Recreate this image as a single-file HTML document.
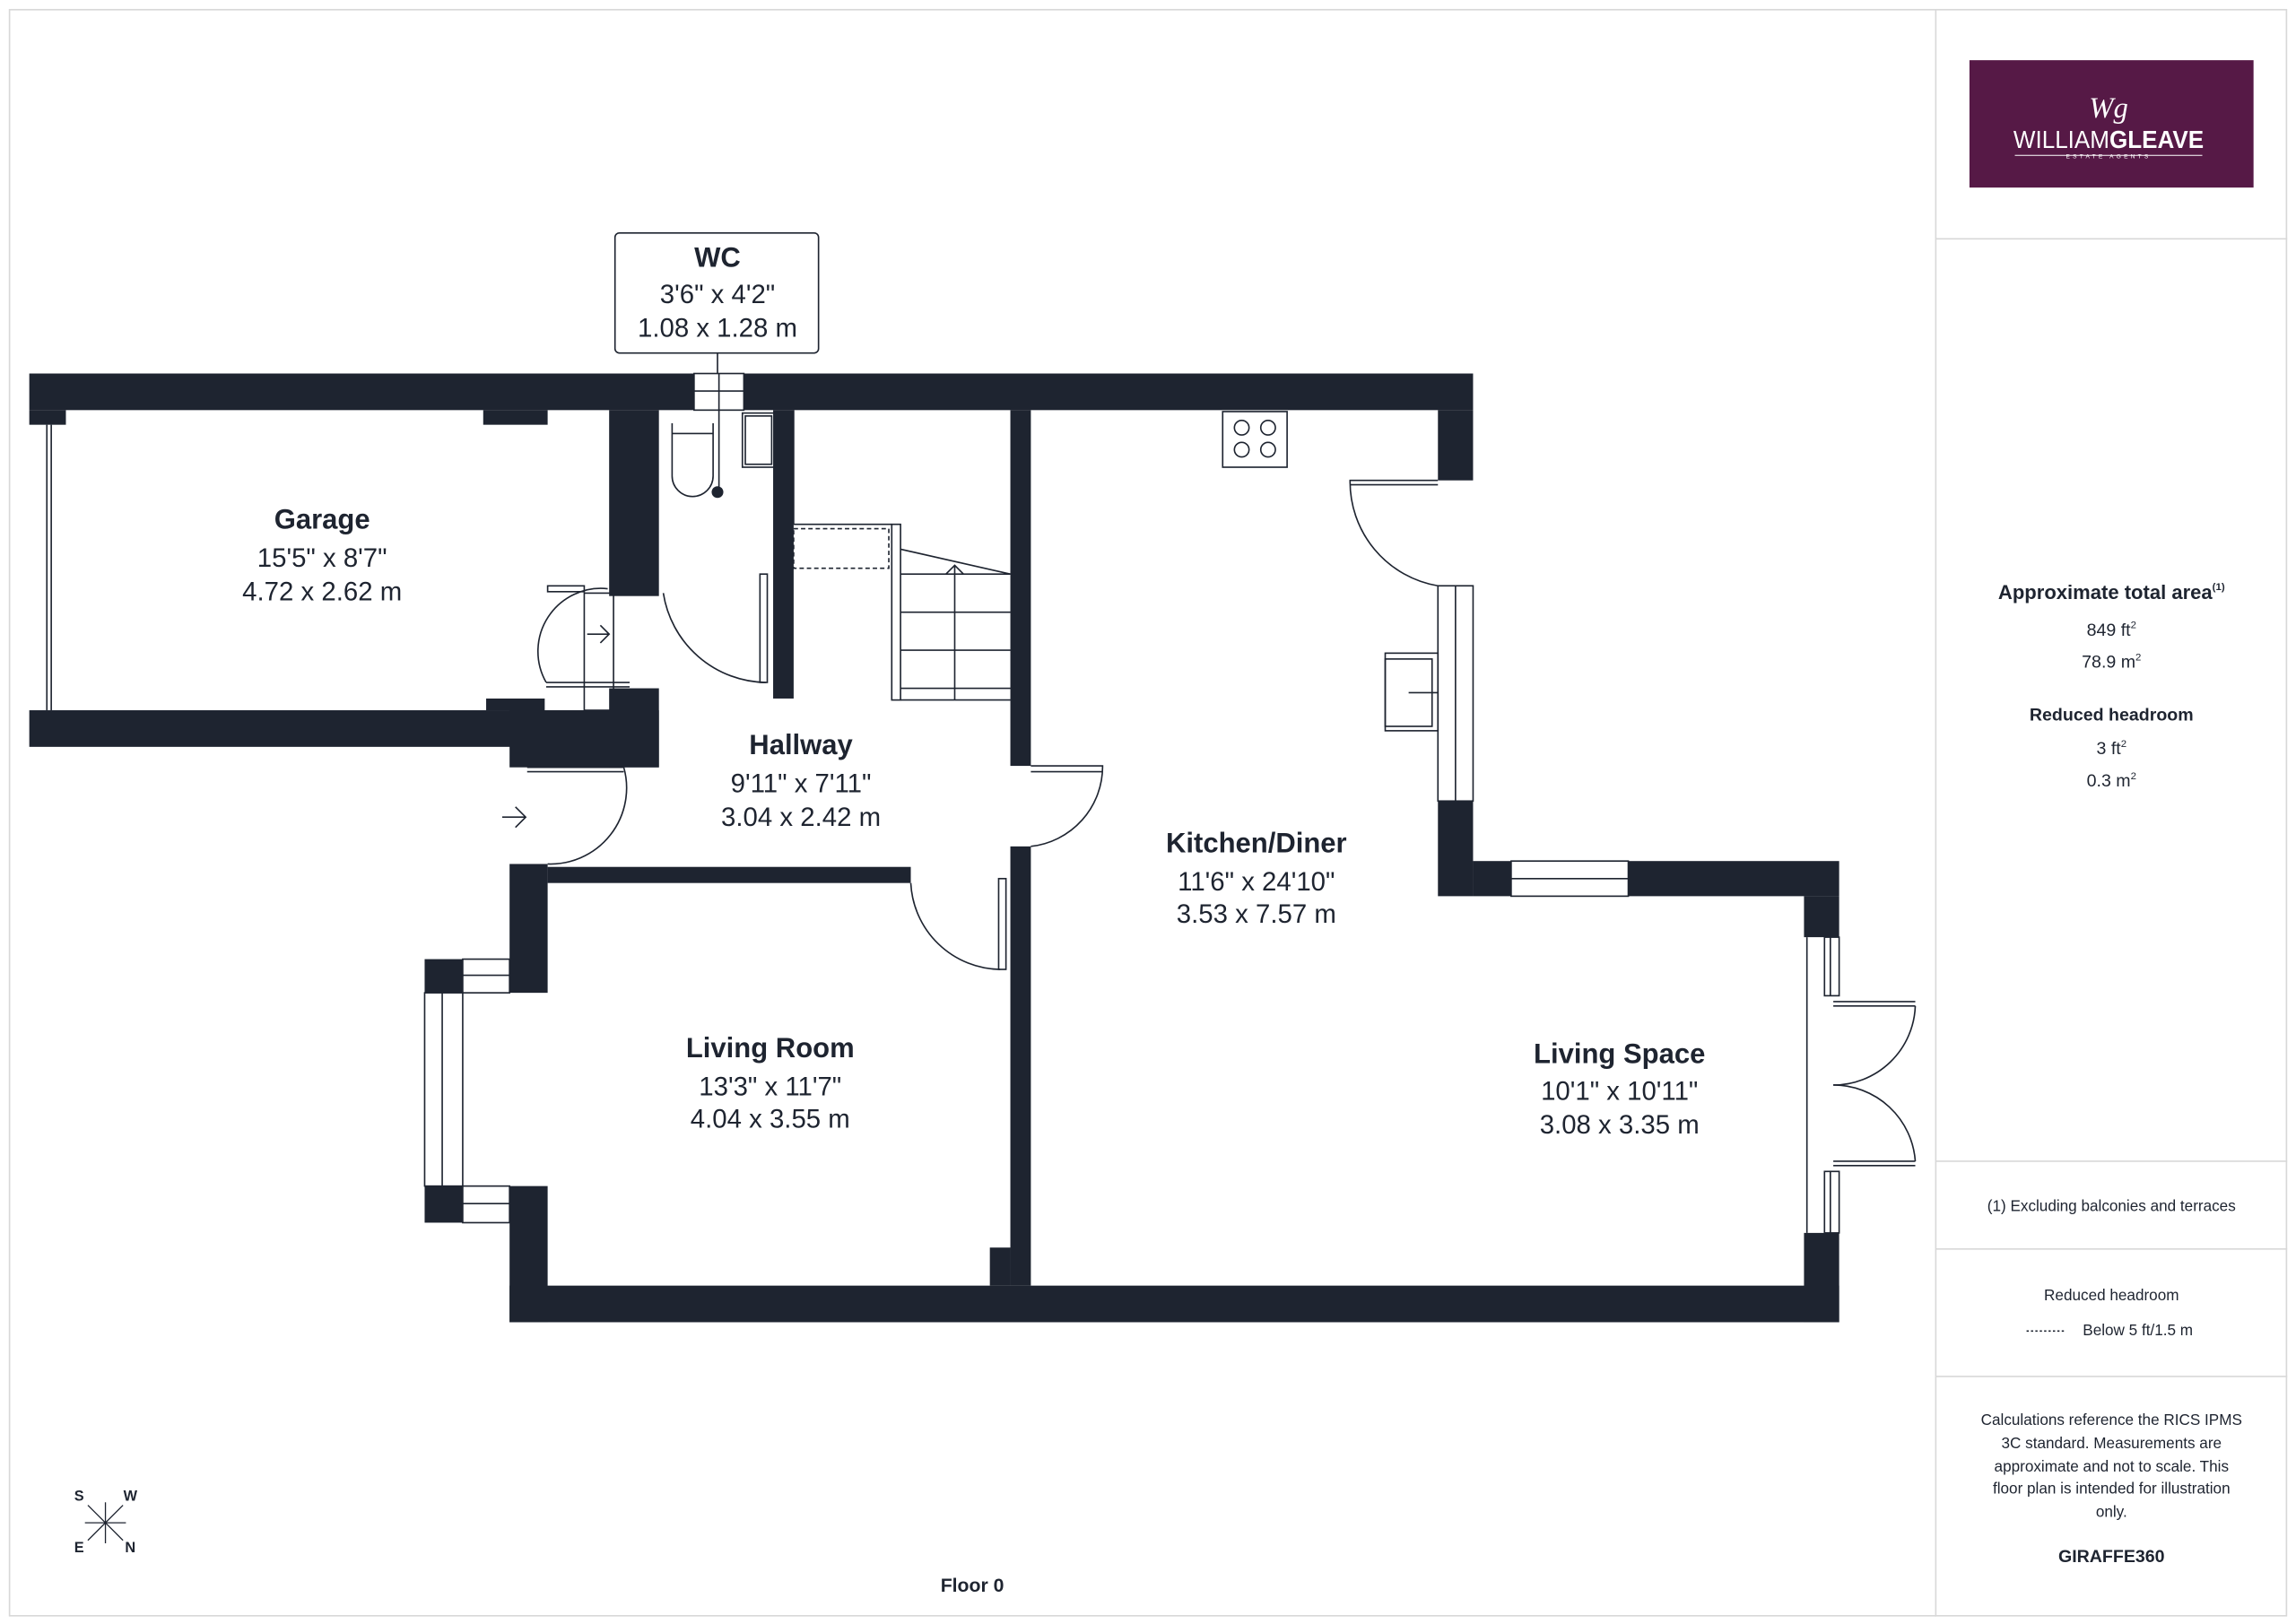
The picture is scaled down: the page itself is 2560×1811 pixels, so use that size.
<!DOCTYPE html>
<html><head><meta charset="utf-8"><style>
html,body{margin:0;padding:0;background:#fff;}
svg{display:block;}
text{font-family:"Liberation Sans",sans-serif;fill:#1e2430;}
</style></head><body>
<svg width="2560" height="1811" viewBox="0 0 1568 1109" xmlns="http://www.w3.org/2000/svg">
<rect x="0" y="0" width="1568" height="1109" fill="#fff"/>
<rect x="6.5" y="6.5" width="1555" height="1097" fill="none" stroke="#d8d8d8" stroke-width="1"/>
<line x1="1322" y1="6" x2="1322" y2="1104" stroke="#d8d8d8"/>
<line x1="1322" y1="163" x2="1562" y2="163" stroke="#d8d8d8"/>
<line x1="1322" y1="793" x2="1562" y2="793" stroke="#d8d8d8"/>
<line x1="1322" y1="853" x2="1562" y2="853" stroke="#d8d8d8"/>
<line x1="1322" y1="940" x2="1562" y2="940" stroke="#d8d8d8"/>

<!-- logo -->
<rect x="1345" y="41" width="194" height="87" fill="#561946"/>
<text x="1440" y="80" text-anchor="middle" font-size="20" style="fill:#fff;font-family:'Liberation Serif',serif;font-style:italic">Wg</text>
<text x="1440" y="101" text-anchor="middle" font-size="17" style="fill:#fff" textLength="130" lengthAdjust="spacingAndGlyphs">WILLIAM<tspan font-weight="bold">GLEAVE</tspan></text>
<line x1="1376" y1="106" x2="1504" y2="106" stroke="#fff" stroke-width="0.6"/>
<text x="1440" y="108" text-anchor="middle" font-size="4" style="fill:#fff" letter-spacing="2">ESTATE AGENTS</text>

<!-- right panel text -->
<text x="1442" y="409" text-anchor="middle" font-size="13.5" font-weight="bold">Approximate total area<tspan font-size="7" dy="-6">(1)</tspan></text>
<text x="1442" y="434" text-anchor="middle" font-size="12">849 ft<tspan font-size="7" dy="-5">2</tspan></text>
<text x="1442" y="456" text-anchor="middle" font-size="12">78.9 m<tspan font-size="7" dy="-5">2</tspan></text>
<text x="1442" y="492" text-anchor="middle" font-size="12" font-weight="bold">Reduced headroom</text>
<text x="1442" y="515" text-anchor="middle" font-size="12">3 ft<tspan font-size="7" dy="-5">2</tspan></text>
<text x="1442" y="537" text-anchor="middle" font-size="12">0.3 m<tspan font-size="7" dy="-5">2</tspan></text>
<text x="1442" y="827" text-anchor="middle" font-size="10.5">(1) Excluding balconies and terraces</text>
<text x="1442" y="888" text-anchor="middle" font-size="10.5">Reduced headroom</text>
<line x1="1384" y1="909" x2="1410" y2="909" stroke="#1e2430" stroke-width="1" stroke-dasharray="1.5 1.5"/>
<text x="1460" y="912" text-anchor="middle" font-size="10.5">Below 5 ft/1.5 m</text>
<text x="1442" y="973" text-anchor="middle" font-size="10.5">Calculations reference the RICS IPMS</text>
<text x="1442" y="989" text-anchor="middle" font-size="10.5">3C standard. Measurements are</text>
<text x="1442" y="1005" text-anchor="middle" font-size="10.5">approximate and not to scale. This</text>
<text x="1442" y="1020" text-anchor="middle" font-size="10.5">floor plan is intended for illustration</text>
<text x="1442" y="1036" text-anchor="middle" font-size="10.5">only.</text>
<text x="1442" y="1067" text-anchor="middle" font-size="12" font-weight="bold">GIRAFFE360</text>

<text x="664" y="1087" text-anchor="middle" font-size="13" font-weight="bold">Floor 0</text>
<!-- compass -->
<g stroke="#1e2430" stroke-width="0.8">
<line x1="60" y1="1028" x2="84" y2="1052"/><line x1="84" y1="1028" x2="60" y2="1052"/>
<line x1="72" y1="1026" x2="72" y2="1054"/><line x1="58" y1="1040" x2="86" y2="1040"/>
</g>
<text x="54" y="1025" text-anchor="middle" font-size="10" font-weight="bold">S</text>
<text x="89" y="1025" text-anchor="middle" font-size="10" font-weight="bold">W</text>
<text x="54" y="1060" text-anchor="middle" font-size="10" font-weight="bold">E</text>
<text x="89" y="1060" text-anchor="middle" font-size="10" font-weight="bold">N</text>

<!-- thin lines / fixtures -->
<g fill="none" stroke="#1e2430" stroke-width="1">
<line x1="32" y1="290" x2="32" y2="485"/><line x1="35" y1="290" x2="35" y2="485"/>
<rect x="474" y="255" width="34" height="25"/><line x1="474" y1="267" x2="508" y2="267"/><line x1="491" y1="255" x2="491" y2="335"/>
<path d="M459 289 V325 a14 14 0 0 0 28 0 V289"/><line x1="459" y1="296" x2="487" y2="296"/>
<rect x="507" y="282" width="22" height="37"/><rect x="509" y="284" width="18" height="33"/>
<path d="M453 405 A72 72 0 0 0 523 466"/><rect x="519" y="392" width="5" height="74"/>
<path d="M399 400 h-25 v4 h25 z"/><rect x="399" y="405" width="20" height="80"/>
<path d="M415 402 A43 43 0 0 0 373 466"/><line x1="373" y1="466" x2="430" y2="466"/><line x1="373" y1="469" x2="430" y2="469"/>
<path d="M401 433 h15 M410 427 l6 6 l-6 6"/>
<line x1="542" y1="280" x2="542" y2="358"/>
<rect x="609" y="358" width="6" height="120"/>
<rect x="542" y="361" width="65" height="27" stroke-dasharray="3 2"/>
<line x1="542" y1="358" x2="609" y2="358"/>
<path d="M615 375 L690 392"/>
<line x1="615" y1="392" x2="690" y2="392"/><line x1="615" y1="418" x2="690" y2="418"/>
<line x1="615" y1="444" x2="690" y2="444"/><line x1="615" y1="470" x2="690" y2="470"/><line x1="615" y1="478" x2="690" y2="478"/>
<line x1="652" y1="386" x2="652" y2="478"/><path d="M646 392 L652 386 L658 392"/>
<path d="M426 524 A52 52 0 0 1 374 590"/><line x1="360" y1="524" x2="426" y2="524"/><line x1="360" y1="527" x2="426" y2="527"/>
<path d="M343 558 h16 M352 551 l7 7 l-7 7"/>
<path d="M622 603 A62 62 0 0 0 683 662"/><rect x="682" y="600" width="5" height="62"/>
<path d="M704 523 H753 A55 55 0 0 1 704 578"/><line x1="704" y1="527" x2="753" y2="527"/>
<rect x="835" y="281" width="44" height="38"/>
<circle cx="848" cy="292" r="5"/><circle cx="866" cy="292" r="5"/><circle cx="848" cy="307" r="5"/><circle cx="866" cy="307" r="5"/>
<path d="M982 328 H922 A72 72 0 0 0 982 400"/><line x1="922" y1="331" x2="982" y2="331"/>
<rect x="982" y="400" width="24" height="147"/><line x1="994" y1="400" x2="994" y2="547"/>
<rect x="946" y="446" width="36" height="53"/><rect x="946" y="450" width="32" height="46"/><line x1="962" y1="473" x2="982" y2="473"/>
<rect x="1032" y="588" width="80" height="24"/><line x1="1032" y1="600" x2="1112" y2="600"/>
<!-- french doors -->
<line x1="1234" y1="640" x2="1234" y2="842"/>
<rect x="1246" y="640" width="10" height="40"/><rect x="1246" y="800" width="10" height="42"/>
<line x1="1250" y1="640" x2="1250" y2="680"/><line x1="1250" y1="800" x2="1250" y2="842"/>
<line x1="1252" y1="684" x2="1308" y2="684"/><line x1="1252" y1="687" x2="1308" y2="687"/>
<path d="M1308 687 A56 56 0 0 1 1252 741"/>
<line x1="1252" y1="796" x2="1308" y2="796"/><line x1="1252" y1="793" x2="1308" y2="793"/>
<path d="M1308 793 A56 56 0 0 0 1252 741"/>
<rect x="290" y="678" width="26" height="132"/><line x1="302" y1="678" x2="302" y2="810"/>
<rect x="316" y="655" width="32" height="23"/><line x1="316" y1="666" x2="348" y2="666"/>
<rect x="316" y="810" width="32" height="25"/><line x1="316" y1="822" x2="348" y2="822"/>
</g>
<circle cx="490" cy="336" r="4" fill="#1e2430"/>

<!-- walls -->
<g fill="#1e2430">
<rect x="20" y="255" width="454" height="25"/>
<rect x="508" y="255" width="498" height="25"/>
<rect x="20" y="280" width="25" height="10"/>
<rect x="330" y="280" width="44" height="10"/>
<rect x="416" y="280" width="34" height="127"/>
<rect x="528" y="280" width="14" height="197"/>
<rect x="690" y="280" width="14" height="243"/>
<rect x="690" y="578" width="14" height="300"/>
<rect x="676" y="852" width="14" height="26"/>
<rect x="982" y="280" width="24" height="48"/>
<rect x="982" y="547" width="24" height="65"/>
<rect x="1006" y="588" width="26" height="24"/>
<rect x="1112" y="588" width="144" height="24"/>
<rect x="1232" y="612" width="24" height="28"/>
<rect x="1232" y="842" width="24" height="61"/>
<rect x="348" y="878" width="908" height="25"/>
<rect x="20" y="485" width="400" height="25"/>
<rect x="332" y="477" width="40" height="8"/>
<rect x="348" y="485" width="102" height="39"/>
<rect x="416" y="470" width="34" height="54"/>
<rect x="348" y="590" width="26" height="88"/>
<rect x="348" y="810" width="26" height="93"/>
<rect x="374" y="592" width="248" height="11"/>
<rect x="290" y="655" width="26" height="23"/>
<rect x="290" y="810" width="26" height="25"/>
</g>

<line x1="490" y1="241" x2="490" y2="255" stroke="#1e2430"/>
<rect x="420" y="159" width="139" height="82" rx="3" fill="#fff" stroke="#1e2430" stroke-width="1"/>
<text x="490" y="182" text-anchor="middle" font-size="19" font-weight="bold">WC</text>
<text x="490" y="207" text-anchor="middle" font-size="18">3'6" x 4'2"</text>
<text x="490" y="230" text-anchor="middle" font-size="18">1.08 x 1.28 m</text>

<g text-anchor="middle">
<text x="220" y="361" font-size="19" font-weight="bold">Garage</text>
<text x="220" y="387" font-size="18">15'5" x 8'7"</text>
<text x="220" y="410" font-size="18">4.72 x 2.62 m</text>
<text x="547" y="515" font-size="19" font-weight="bold">Hallway</text>
<text x="547" y="541" font-size="18">9'11" x 7'11"</text>
<text x="547" y="564" font-size="18">3.04 x 2.42 m</text>
<text x="858" y="582" font-size="19" font-weight="bold">Kitchen/Diner</text>
<text x="858" y="608" font-size="18">11'6" x 24'10"</text>
<text x="858" y="630" font-size="18">3.53 x 7.57 m</text>
<text x="526" y="722" font-size="19" font-weight="bold">Living Room</text>
<text x="526" y="748" font-size="18">13'3" x 11'7"</text>
<text x="526" y="770" font-size="18">4.04 x 3.55 m</text>
<text x="1106" y="726" font-size="19" font-weight="bold">Living Space</text>
<text x="1106" y="751" font-size="18">10'1" x 10'11"</text>
<text x="1106" y="774" font-size="18">3.08 x 3.35 m</text>
</g>
</svg>
</body></html>
